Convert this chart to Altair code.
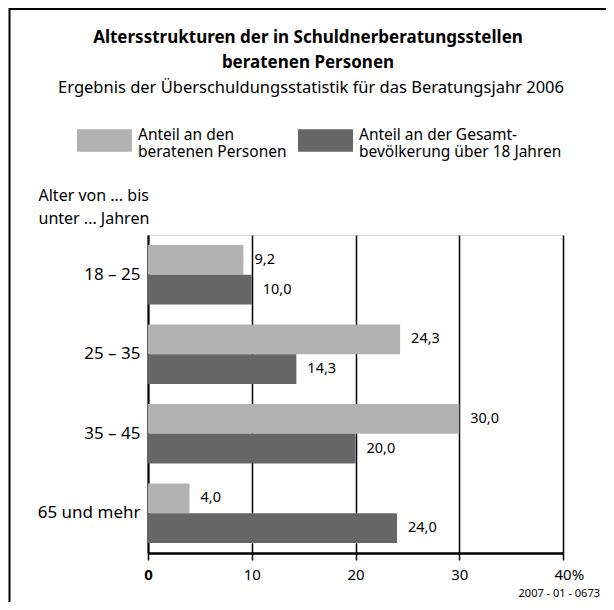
import altair as alt
import pandas as pd

categories = ["18 – 25", "25 – 35", "35 – 45", "65 und mehr"]
series = ["Anteil an den|beratenen Personen", "Anteil an der Gesamt-|bevölkerung über 18 Jahren"]
beratene = [9.2, 24.3, 30.0, 4.0]
gesamt = [10.0, 14.3, 20.0, 24.0]
x_ticks = [0, 10, 20, 30, 40]
colors = ["#b2b2b2", "#666666"]
title_lines = ["Altersstrukturen der in Schuldnerberatungsstellen", "beratenen Personen"]
subtitle = "Ergebnis der Überschuldungsstatistik für das Beratungsjahr 2006"
source_note = "2007 - 01 - 0673"

rows = []
for c, a, b in zip(categories, beratene, gesamt):
    rows.append({"Alter": c, "Serie": series[0], "Wert": a})
    rows.append({"Alter": c, "Serie": series[1], "Wert": b})
df = pd.DataFrame(rows)

FONT = "Noto Sans"
W, H = 415, 318
PL, PT = 140, 227

y_enc = alt.Y("Alter:N", sort=categories,
              scale=alt.Scale(paddingInner=0.25, paddingOuter=0.125),
              axis=alt.Axis(title=["Alter von ... bis", "unter ... Jahren"],
                            titleAngle=0, titleAlign="left", titleBaseline="top",
                            titleX=-110, titleY=-48, titleFontSize=16,
                            titleFontWeight="normal", titleFont=FONT,
                            titleLineHeight=23, titleColor="black",
                            labelFontSize=17, labelColor="black", labelFont=FONT,
                            labelPadding=8, ticks=False,
                            domainColor="black", domainWidth=2))
yoff = alt.YOffset("Serie:N", sort=series)

x_enc = alt.X("Wert:Q", scale=alt.Scale(domain=[0, 40], nice=False),
              axis=alt.Axis(title=None, values=x_ticks,
                            labelExpr="datum.value == 40 ? '40%' : datum.label",
                            labelAlign={"condition": {"test": "datum.value == 40", "value": "left"}, "value": "center"},
                            labelOffset={"condition": {"test": "datum.value == 40", "value": -9}, "value": 0},
                            labelFontWeight={"condition": {"test": "datum.value == 0", "value": "bold"}, "value": "normal"},
                            labelFontSize=15, labelColor="black", labelFont=FONT,
                            tickSize=7, tickColor="black", tickWidth=1.5,
                            labelPadding=7,
                            domainColor="black", domainWidth=2.5,
                            grid=True, gridColor="black", gridWidth=1.5))

base = alt.Chart(df)

bars = base.mark_bar().encode(
    x=x_enc, y=y_enc, yOffset=yoff,
    color=alt.Color("Serie:N", sort=series,
                    scale=alt.Scale(domain=series, range=colors),
                    legend=alt.Legend(
                        title=None, orient="none", legendX=-71, legendY=-128,
                        direction="horizontal", columns=2, columnPadding=11,
                        labelExpr="split(datum.label, '|')",
                        labelFontSize=15.5, labelFont=FONT, labelColor="black",
                        labelLimit=400, labelOffset=6, labelBaseline="middle",
                        symbolType="M-1,-0.2L1,-0.2L1,0.62L-1,0.62Z",
                        symbolSize=3025, symbolOpacity=1, symbolStrokeWidth=0)),
)

labels = base.mark_text(align="left", baseline="middle", dx=11, fontSize=14.5,
                        font=FONT, color="black").transform_calculate(
    txt="replace(format(datum.Wert, '.1f'), '.', ',')"
).encode(x="Wert:Q", y=alt.Y("Alter:N", sort=categories), yOffset=yoff, text="txt:N")

one = pd.DataFrame({"k": [0]})
frame_top = alt.Chart(one).mark_rule(color="black", strokeWidth=2).encode(
    x=alt.value(-138.5), x2=alt.value(W + 60), y=alt.value(-226))
frame_left = alt.Chart(one).mark_rule(color="black", strokeWidth=2).encode(
    x=alt.value(-138.5), y=alt.value(-227), y2=alt.value(H + 60))
source = alt.Chart(one).mark_text(align="right", baseline="middle", fontSize=11,
                                  font=FONT, color="black").encode(
    x=alt.value(452), y=alt.value(359), text=alt.value(source_note))
t1 = alt.Chart(one).mark_text(align="center", baseline="middle", fontSize=17,
                              fontWeight="bold", font=FONT, color="black").encode(
    x=alt.value(160), y=alt.value(-197), text=alt.value(title_lines[0]))
t2 = alt.Chart(one).mark_text(align="center", baseline="middle", fontSize=17,
                              fontWeight="bold", font=FONT, color="black").encode(
    x=alt.value(160), y=alt.value(-172), text=alt.value(title_lines[1]))
t3 = alt.Chart(one).mark_text(align="center", baseline="middle", fontSize=16.5,
                              font=FONT, color="black").encode(
    x=alt.value(163), y=alt.value(-147), text=alt.value(subtitle))

chart = alt.layer(bars, labels, frame_top, frame_left, source, t1, t2, t3).properties(
    width=W, height=H,
    autosize=alt.AutoSizeParams(type="none"),
    padding={"left": PL, "top": PT, "right": 43, "bottom": 49},
).configure_view(stroke="black", strokeWidth=2.5).configure(background="white")

chart.save("out.html", embed_options={"renderer": "svg", "actions": False})
